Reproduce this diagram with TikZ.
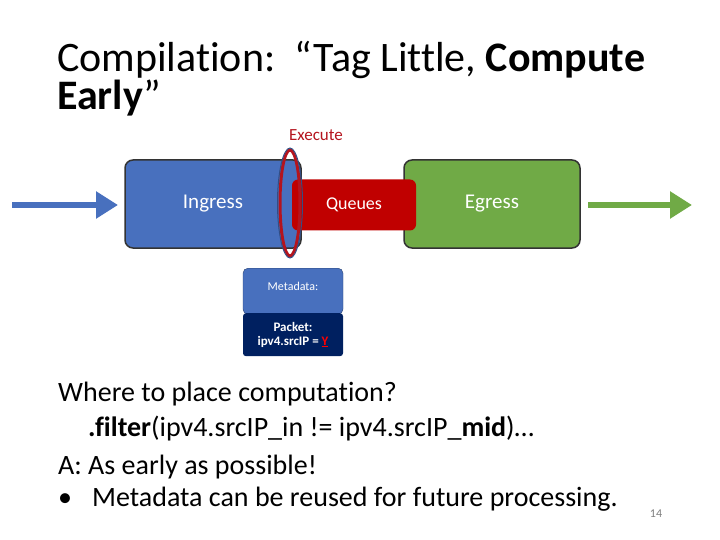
\documentclass[tikz,border=0pt]{standalone}
\usepackage{fontspec}
\setmainfont[Ligatures=NoCommon,Contextuals=NoAlternate]{Carlito}
\usetikzlibrary{arrows.meta}
\definecolor{ib}{RGB}{72,112,190}
\definecolor{qr}{RGB}{192,0,0}
\definecolor{eg}{RGB}{112,170,70}
\definecolor{pk}{RGB}{0,32,96}
\definecolor{ex}{RGB}{180,20,30}
\begin{document}
\begin{tikzpicture}[x=1pt,y=-1pt,
  stage/.style={rounded corners=8pt,draw=black!80,line width=1.5pt,text=white,font=\fontsize{21}{23}\selectfont},
  body/.style={anchor=base west,inner sep=0pt,font=\fontsize{28}{32}\selectfont}]
\useasboundingbox (0,0) rectangle (720,540);
\node[anchor=base west,inner sep=0pt,font=\fontsize{42}{44}\selectfont] (t1) at (57,72) {Compilation:\ \ “Tag Little, \textbf{Compute}};
\node[anchor=base west,inner sep=0pt,font=\fontsize{42}{44}\selectfont] (t2) at (57,110) {\textbf{Early}”};
\node[text=ex,font=\fontsize{17}{19}\selectfont] (exe) at (316,135) {Execute};
\draw[ib,line width=6pt,-{Triangle[length=22pt,width=26pt]}] (12,205) coordinate(a1) -- (118,205) coordinate(a2);
\draw[eg,line width=6pt,-{Triangle[length=22pt,width=26pt]}] (588,205) coordinate(b1) -- (692,205) coordinate(b2);
\node[stage,fill=eg,minimum width=176pt,minimum height=88pt] (eg) at (492,204) {Egress};
\node[stage,fill=ib,minimum width=176pt,minimum height=88pt] (in) at (213,204) {Ingress};
\node[rounded corners=6pt,fill=qr,minimum width=124pt,minimum height=51pt,text=white,font=\fontsize{18}{20}\selectfont] (q) at (354,205) {Queues};
\draw[ex,line width=3pt] (290,203) ellipse [x radius=10pt,y radius=53pt];
\draw[ib!70!black,line width=1pt] (290,203) ellipse [x radius=12.5pt,y radius=55pt];
\node[rounded corners=5pt,fill=ib,draw=ib!60!black,minimum width=100pt,minimum height=46pt,text=white,font=\fontsize{12}{13}\selectfont,anchor=north,inner sep=3pt] (md) at (293,268) {\raisebox{10pt}{Metadata:}};
\node[rounded corners=3pt,fill=pk,minimum width=100pt,minimum height=43pt,text=white,font=\bfseries\fontsize{13}{14}\selectfont,align=center,anchor=north] (pk) at (293,313) {Packet:\\ipv4.srcIP = \textcolor{red}{\underline{Y}}};
\node[body] (l1) at (58,401) {Where to place computation?};
\node[body] (l2) at (88,436) {\textbf{.filter}(ipv4.srcIP\_in != ipv4.srcIP\_\textbf{mid})…};
\node[body] (l3) at (58,474) {A: As early as possible!};
\node[body] (l4) at (58,506) {•\hspace{20pt}Metadata can be reused for future processing.};
\node[text=gray,font=\fontsize{12}{14}\selectfont] (pn) at (656,514) {14};
\end{tikzpicture}
\end{document}
